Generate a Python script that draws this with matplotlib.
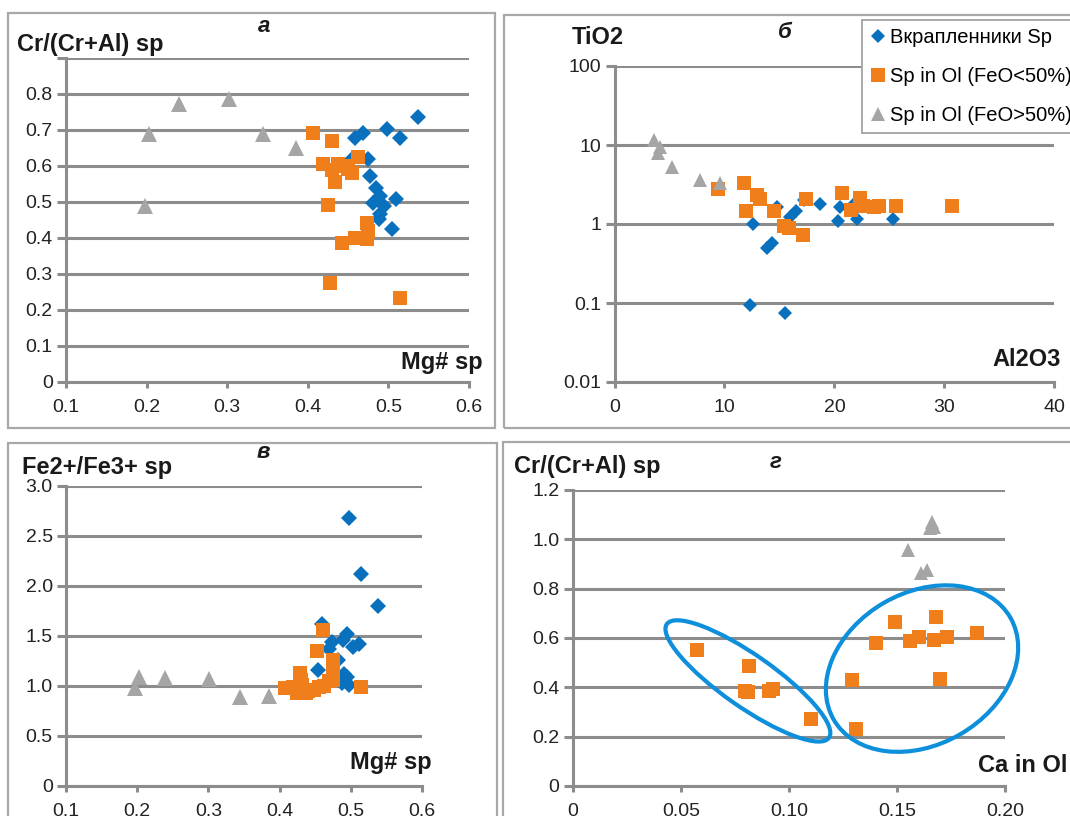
import matplotlib
matplotlib.use('Agg')
import matplotlib.pyplot as plt
from matplotlib.patches import Rectangle, Ellipse
from matplotlib.transforms import ScaledTranslation
from matplotlib.lines import Line2D

plt.rcParams['font.family'] = ['Liberation Sans', 'DejaVu Sans']

# ---- data: panel a (Cr# vs Mg#) ----
a_blue_x = [0.537, 0.498, 0.514, 0.459, 0.469, 0.455, 0.475, 0.477, 0.485, 0.490, 0.510, 0.481, 0.494, 0.490, 0.488, 0.504]
a_blue_y = [0.735, 0.702, 0.679, 0.679, 0.693, 0.620, 0.619, 0.572, 0.540, 0.517, 0.507, 0.498, 0.489, 0.466, 0.452, 0.424]
a_orange_x = [0.407, 0.430, 0.462, 0.419, 0.437, 0.450, 0.445, 0.434, 0.425, 0.442, 0.459, 0.473, 0.473, 0.475, 0.428, 0.514, 0.455, 0.430]
a_orange_y = [0.693, 0.670, 0.624, 0.605, 0.605, 0.591, 0.600, 0.555, 0.493, 0.387, 0.401, 0.443, 0.396, 0.420, 0.276, 0.234, 0.580, 0.590]
a_gray_x = [0.198, 0.203, 0.240, 0.302, 0.345, 0.385]
a_gray_y = [0.490, 0.690, 0.773, 0.787, 0.690, 0.650]

# ---- data: panel b (TiO2 vs Al2O3) ----
b_blue_x = [12.6, 13.9, 14.3, 14.8, 16.0, 16.5, 17.2, 18.7, 20.3, 20.5, 22.1, 25.3, 12.3, 15.5, 21.8]
b_blue_y = [1.0, 0.49, 0.57, 1.66, 1.24, 1.44, 2.0, 1.8, 1.1, 1.66, 1.15, 1.15, 0.095, 0.075, 1.8]
b_orange_x = [9.4, 11.8, 13.0, 13.2, 12.0, 14.5, 15.4, 15.9, 17.1, 17.4, 20.7, 21.5, 22.3, 22.6, 23.6, 24.1, 25.6, 30.7]
b_orange_y = [2.8, 3.35, 2.34, 2.1, 1.44, 1.44, 0.93, 0.885, 0.73, 2.06, 2.5, 1.51, 2.12, 1.7, 1.66, 1.7, 1.7, 1.7]
b_gray_x = [3.6, 4.1, 4.0, 5.2, 7.8, 9.6]
b_gray_y = [11.6, 9.5, 7.9, 5.3, 3.6, 3.3]

# ---- data: panel v (Fe2+/Fe3+ vs Mg#) ----
c_blue_x = [0.498, 0.515, 0.538, 0.460, 0.473, 0.470, 0.494, 0.489, 0.503, 0.511, 0.454, 0.482, 0.494, 0.487, 0.498, 0.491]
c_blue_y = [2.684, 2.124, 1.80, 1.625, 1.44, 1.375, 1.525, 1.46, 1.39, 1.425, 1.16, 1.26, 1.09, 1.026, 1.01, 1.125]
c_orange_x = [0.461, 0.452, 0.428, 0.475, 0.475, 0.475, 0.408, 0.424, 0.437, 0.431, 0.456, 0.449, 0.514, 0.419, 0.470, 0.440, 0.430, 0.462]
c_orange_y = [1.565, 1.352, 1.13, 1.26, 1.125, 1.06, 0.976, 0.926, 0.926, 1.01, 0.99, 0.96, 0.99, 0.99, 1.05, 0.95, 1.06, 1.0]
c_gray_x = [0.197, 0.203, 0.239, 0.301, 0.345, 0.385]
c_gray_y = [0.976, 1.09, 1.085, 1.075, 0.89, 0.90]

# ---- data: panel g (Cr# vs Ca in Ol) ----
d_orange_x = [0.0576, 0.0817, 0.0795, 0.081, 0.0908, 0.0924, 0.110, 0.129, 0.131, 0.140, 0.149, 0.156, 0.160, 0.168, 0.167, 0.170, 0.173, 0.187]
d_orange_y = [0.551, 0.488, 0.386, 0.382, 0.386, 0.392, 0.272, 0.43, 0.23, 0.58, 0.666, 0.589, 0.603, 0.686, 0.592, 0.432, 0.603, 0.622]
d_gray_x = [0.155, 0.161, 0.164, 0.166, 0.167, 0.165]
d_gray_y = [0.957, 0.862, 0.876, 1.07, 1.05, 1.045]
# group outlines: centre (data), size (px), angle
d_groups = [((0.081, 0.426), 198, 52, -35), ((0.1615, 0.476), 204, 152, 30)]

# ---- ticks ----
mg_ticks = [0.1, 0.2, 0.3, 0.4, 0.5, 0.6]
mg_labels = ['0.1', '0.2', '0.3', '0.4', '0.5', '0.6']
a_yticks = [0, 0.1, 0.2, 0.3, 0.4, 0.5, 0.6, 0.7, 0.8, 0.9]
a_ylabels = ['0', '0.1', '0.2', '0.3', '0.4', '0.5', '0.6', '0.7', '0.8', '']
b_xticks = [0, 10, 20, 30, 40]
b_xlabels = ['0', '10', '20', '30', '40']
b_yticks = [0.01, 0.1, 1, 10, 100]
b_ylabels = ['0.01', '0.1', '1', '10', '100']
c_yticks = [0, 0.5, 1.0, 1.5, 2.0, 2.5, 3.0]
c_ylabels = ['0', '0.5', '1.0', '1.5', '2.0', '2.5', '3.0']
d_xticks = [0, 0.05, 0.10, 0.15, 0.20]
d_xlabels = ['0', '0.05', '0.10', '0.15', '0.20']
d_yticks = [0, 0.2, 0.4, 0.6, 0.8, 1.0, 1.2]
d_ylabels = ['0', '0.2', '0.4', '0.6', '0.8', '1.0', '1.2']

legend_labels = ['Вкрапленники Sp', 'Sp in Ol (FeO<50%)', 'Sp in Ol (FeO>50%)']

BLUE = '#0870bd'
ORANGE = '#f07f1b'
GRAY = '#a5a5a5'
GRID = '#8c8c8c'
FRAME = '#a8a8a8'
RING = '#0d8fdb'

W, H = 1070, 816
fig = plt.figure(figsize=(W / 100, H / 100), dpi=100)


def fx(px):
  return px / W


def fy(py):
  return 1 - py / H


def make_axes(x0, x1, y0, y1):
  # pixel box -> axes
  return fig.add_axes([fx(x0), fy(y1), (x1 - x0) / W, (y1 - y0) / H])


def style(ax):
  for s in ['top', 'right']:
    ax.spines[s].set_visible(False)
  for s in ['left', 'bottom']:
    ax.spines[s].set_color(GRID)
    ax.spines[s].set_linewidth(2.2)
  ax.grid(axis='y', color=GRID, lw=2.2)
  ax.set_axisbelow(True)
  ax.tick_params(colors=GRID, width=2.2, labelcolor='#222222', labelsize=14)
  ax.tick_params(axis='y', length=6.5, pad=3)
  ax.tick_params(axis='x', length=4.5, pad=8)


def scatter3(ax, bx, by, ox, oy, gx, gy, ms=1.0):
  if bx:
    ax.plot(bx, by, 'D', color=BLUE, ms=7.8 * ms, mew=0, ls='none', clip_on=False)
  ax.plot(ox, oy, 's', color=ORANGE, ms=10.5 * ms, mew=0, ls='none', clip_on=False)
  ax.plot(gx, gy, '^', color=GRAY, ms=11 * ms, mew=0, ls='none', clip_on=False)


def label(px, py, s, ha='left', **kw):
  fig.text(fx(px), fy(py), s, ha=ha, va='center', **kw)


# panel frames
for x0, y0, x1, y1 in [(8, 13, 495, 428), (504, 15, 1080, 428), (8, 443, 497, 830), (503, 442, 1080, 830)]:
  fig.add_artist(Rectangle((fx(x0), fy(y1)), (x1 - x0) / W, (y1 - y0) / H,
                           transform=fig.transFigure, fill=False, ec=FRAME, lw=1.6))

# ---- panel a ----
ax_a = make_axes(66, 469, 58, 382)
style(ax_a)
scatter3(ax_a, a_blue_x, a_blue_y, a_orange_x, a_orange_y, a_gray_x, a_gray_y)
ax_a.set_xlim(0.1, 0.6)
ax_a.set_ylim(0, 0.9)
ax_a.set_xticks(mg_ticks, mg_labels)
ax_a.set_yticks(a_yticks, a_ylabels)

# ---- panel b ----
ax_b = make_axes(614.5, 1054.3, 66, 382)
style(ax_b)
ax_b.set_yscale('log')
scatter3(ax_b, b_blue_x, b_blue_y, b_orange_x, b_orange_y, b_gray_x, b_gray_y, ms=0.9)
ax_b.set_xlim(0, 40)
ax_b.set_ylim(0.01, 100)
ax_b.set_xticks(b_xticks, b_xlabels)
ax_b.set_yticks(b_yticks, b_ylabels)
ax_b.minorticks_off()
handles = [Line2D([], [], marker='D', color=BLUE, ms=7, mew=0, ls='none'),
           Line2D([], [], marker='s', color=ORANGE, ms=10, mew=0, ls='none'),
           Line2D([], [], marker='^', color=GRAY, ms=10, mew=0, ls='none')]
leg = ax_b.legend(handles, legend_labels, loc='upper left', bbox_to_anchor=(fx(862), fy(20)),
                  bbox_transform=fig.transFigure, fancybox=False, framealpha=1, edgecolor=FRAME,
                  fontsize=14.5, handlelength=0.75, handletextpad=0.25, borderpad=0.4,
                  labelspacing=1.0, borderaxespad=0)
leg.get_frame().set_linewidth(1.4)
leg.set_zorder(10)

# ---- panel v ----
ax_c = make_axes(66, 422, 486, 786)
style(ax_c)
scatter3(ax_c, c_blue_x, c_blue_y, c_orange_x, c_orange_y, c_gray_x, c_gray_y)
ax_c.set_xlim(0.1, 0.6)
ax_c.set_ylim(0, 3.0)
ax_c.set_xticks(mg_ticks, mg_labels)
ax_c.set_yticks(c_yticks, c_ylabels)

# ---- panel g ----
ax_d = make_axes(572.7, 1005.3, 490, 786)
style(ax_d)
scatter3(ax_d, [], [], d_orange_x, d_orange_y, d_gray_x, d_gray_y, ms=0.95)
ax_d.set_xlim(0, 0.2)
ax_d.set_ylim(0, 1.2)
ax_d.set_xticks(d_xticks, d_xlabels)
ax_d.set_yticks(d_yticks, d_ylabels)
for (cx, cy), w, h, ang in d_groups:
  tr = fig.dpi_scale_trans + ScaledTranslation(cx, cy, ax_d.transData)
  ax_d.add_patch(Ellipse((0, 0), w / 100, h / 100, angle=ang, transform=tr,
                         fill=False, ec=RING, lw=3, clip_on=False, zorder=4))

# ---- texts ----
bold = dict(fontsize=17, fontweight='bold', color='#1a1a1a')
ital = dict(fontsize=16, fontweight='bold', fontstyle='italic', color='#1a1a1a', ha='center')
label(17, 44, 'Cr/(Cr+Al) sp', **bold)
label(264, 27, 'а', **ital)
label(483, 362, 'Mg# sp', ha='right', **bold)
label(572, 37, 'TiO2', **bold)
label(785, 33, 'б', **ital)
label(1061, 360, 'Al2O3', ha='right', **bold)
label(22, 468, 'Fe2+/Fe3+ sp', **bold)
label(263, 453, 'в', **ital)
label(432, 762, 'Mg# sp', ha='right', **bold)
label(514, 467, 'Cr/(Cr+Al) sp', **bold)
label(776, 462, 'г', **ital)
label(1067, 766, 'Ca in Ol', ha='right', **bold)

fig.savefig('out.png', dpi=100)
